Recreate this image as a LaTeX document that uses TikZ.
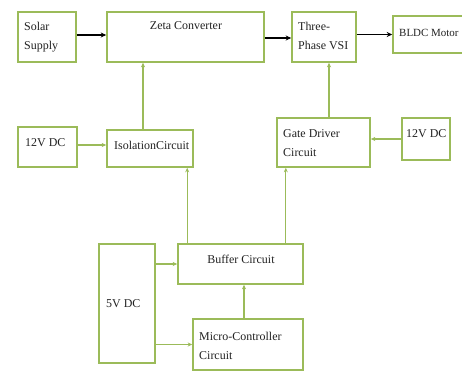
\documentclass[tikz,border=0pt]{standalone}
\usepackage{fontspec}
\setmainfont{Liberation Serif}
\usetikzlibrary{arrows.meta}
\definecolor{boxgreen}{HTML}{9BBB59}
\definecolor{txt}{HTML}{222222}
\begin{document}
\begin{tikzpicture}[x=1bp,y=-1bp,
  box/.style={draw=boxgreen,line width=1.6bp,inner sep=0pt,fill=white},
  lbl/.style={inner sep=0pt,text=txt,font=\fontsize{12}{18.5}\selectfont,align=left},
  garrow/.style={draw=boxgreen,line width=1.3bp,-{Stealth[length=4.5bp,width=4bp]}},
  barrow/.style={draw=black,line width=1.6bp,-{Stealth[length=5.5bp,width=5bp]}}]
\useasboundingbox[fill=white] (0,0) rectangle (462,372);
\clip (0,0) rectangle (462,372);
% boxes
\node[box,minimum width=58bp,minimum height=50bp] (solar) at (47,37) {};
\node[box,minimum width=157bp,minimum height=50bp] (zeta) at (185.5,37) {};
\node[box,minimum width=64bp,minimum height=50bp] (vsi) at (324,37) {};
\node[box,minimum width=76bp,minimum height=37bp] (bldc) at (431,34.5) {};
\node[box,minimum width=59bp,minimum height=40bp] (v12a) at (47.5,147) {};
\node[box,minimum width=86bp,minimum height=37bp] (iso) at (150,148.5) {};
\node[box,minimum width=93bp,minimum height=49bp] (gate) at (323.5,142.5) {};
\node[box,minimum width=48bp,minimum height=42bp] (v12b) at (426,139) {};
\node[box,minimum width=125bp,minimum height=40bp] (buffer) at (240.5,264) {};
\node[box,minimum width=56bp,minimum height=119bp] (v5) at (127,303.5) {};
\node[box,minimum width=110bp,minimum height=51bp] (micro) at (248,344.5) {};
% labels (base = baseline of last line)
\node[lbl,anchor=base west] (tsolar) at (24,49) {Solar\\Supply};
\node[lbl,anchor=base] (tzeta) at (186,29) {Zeta Converter};
\node[lbl,anchor=base west] (tvsi) at (298,49) {Three-\\Phase VSI};
\node[lbl,anchor=base west,font=\fontsize{11}{16}\selectfont] (tbldc) at (399,36) {BLDC Motor};
\node[lbl,anchor=base west] (tv12a) at (25,146) {12V DC};
\node[lbl,anchor=base west] (tiso) at (114,149) {IsolationCircuit};
\node[lbl,anchor=base west] (tgate) at (283,156) {Gate Driver\\Circuit};
\node[lbl,anchor=base west] (tv12b) at (406,137) {12V DC};
\node[lbl,anchor=base] (tbuffer) at (241,263) {Buffer Circuit};
\node[lbl,anchor=base west] (tv5) at (106,307) {5V DC};
\node[lbl,anchor=base west] (tmicro) at (199,359) {Micro-Controller\\Circuit};
% connectors
\draw[barrow] ([yshift=2bp]solar.east) -- ([yshift=2bp]zeta.west);
\draw[barrow] ([yshift=-1bp]zeta.east) -- ([yshift=-1bp]vsi.west);
\draw[barrow] (vsi.east |- bldc.west) -- (bldc.west);
\draw[garrow] ([yshift=2bp]v12a.east) -- ([yshift=2bp]v12a.east -| iso.west);
\draw[garrow] ([xshift=-7bp]iso.north) -- ([xshift=-7bp]iso.north |- zeta.south);
\draw[garrow] ([xshift=10bp]buffer.north west) -- ([xshift=10bp]buffer.north west |- iso.south);
\draw[garrow] ([xshift=-18bp]buffer.north east) -- ([xshift=-18bp]buffer.north east |- gate.south);
\draw[garrow] ([xshift=5.5bp]gate.north) -- ([xshift=5.5bp]gate.north |- vsi.south);
\draw[garrow] (v12b.west) -- (v12b.west -| gate.east);
\draw[garrow] (v5.east |- buffer.west) -- (buffer.west);
\draw[garrow] (v5.east |- micro.west) -- (micro.west);
\draw[garrow] ([xshift=-4bp]micro.north) -- ([xshift=-4bp]micro.north |- buffer.south);
\end{tikzpicture}
\end{document}
